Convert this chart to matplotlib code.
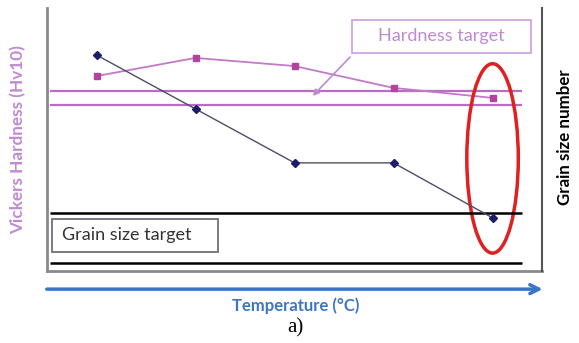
import matplotlib
matplotlib.use("Agg")
import matplotlib.pyplot as plt
from matplotlib.patches import Ellipse, Rectangle, FancyArrowPatch

# temperature steps (no tick labels in the original)
temps = [1, 2, 3, 4, 5]
# hardness (arbitrary units, left axis)
hardness = [74.1, 81.0, 77.9, 69.6, 65.8]
hardness_target = [68.6, 63.1]
# grain size number (arbitrary units, right axis)
grain_size = [8.21, 6.16, 4.11, 4.11, 2.02]
grain_target = [2.21, 0.30]

purple = "#b86cc4"
purple_light = "#c08ad2"
navy = "#1c1c6a"
blue = "#3b76c6"

plt.rcParams['font.family'] = ['Lato', 'DejaVu Sans']

fig = plt.figure(figsize=(5.79, 3.43), dpi=100)
ax = fig.add_axes([0.0812, 0.2099, 0.855, 0.767])
ax2 = ax.twinx()

ax.set_xlim(0.5, 5.5)
ax.set_ylim(0, 100)
ax2.set_ylim(0, 10)

for a in (ax, ax2):
    a.set_xticks([])
    a.set_yticks([])
    a.spines['top'].set_visible(False)
ax.spines['left'].set_color("#8a8a8a")
ax.spines['left'].set_linewidth(2)
ax.spines['bottom'].set_color("#8a8a8a")
ax.spines['bottom'].set_linewidth(2)
ax.spines['right'].set_visible(False)
ax2.spines['left'].set_visible(False)
ax2.spines['bottom'].set_visible(False)
ax2.spines['right'].set_color("#555555")
ax2.spines['right'].set_linewidth(1.5)

# target bands
for v in hardness_target:
    ax.hlines(v, 0.53, 5.3, color=purple, lw=1.6)
for v in grain_target:
    ax2.hlines(v, 0.53, 5.3, color="black", lw=1.8)

# data series
ax.plot(temps, hardness, color="#c27ac8", lw=1.3, marker="s", ms=5,
        mfc="#b0459f", mec="#b0459f", zorder=3)
ax2.plot(temps, grain_size, color="#4d4d6a", lw=1.0, marker="D", ms=4,
         mfc=navy, mec=navy, zorder=3)

# red ellipse around the last temperature
ax.add_patch(Ellipse((5, 42.8), 0.52, 72, fill=False, ec="#e01f1f", lw=2.5, zorder=4))

# hardness target callout
ax.add_patch(Rectangle((0.616, 0.829), 0.362, 0.1255, transform=ax.transAxes,
                       fill=False, ec="#cfa6dd", lw=1.3))
ax.text(0.796, 0.892, "Hardness target", transform=ax.transAxes, ha="center",
        va="center", color=purple_light, fontsize=13)
ax.annotate("", xy=(0.533, 0.658), xytext=(0.616, 0.821), xycoords=ax.transAxes,
            textcoords=ax.transAxes,
            arrowprops=dict(arrowstyle="-|>", color=purple_light, lw=1.2,
                            mutation_scale=9))

# grain size target box
ax.add_patch(Rectangle((0.0101, 0.0722), 0.335, 0.1255, transform=ax.transAxes,
                       fill=False, ec="#70707e", lw=1.3))
ax.text(0.0303, 0.135, "Grain size target", transform=ax.transAxes, ha="left",
        va="center", color="#333333", fontsize=13)

# axis labels
fig.text(0.031, 0.592, "Vickers Hardness (Hv10)", rotation=90, ha="center",
         va="center", color=purple_light, fontsize=12.3, fontweight="bold")
fig.text(0.976, 0.60, "Grain size number", rotation=90, ha="center",
         va="center", color="black", fontsize=12.2, fontweight="bold")

# temperature arrow
fig.add_artist(FancyArrowPatch((0.076, 0.157), (0.942, 0.157),
                               transform=fig.transFigure, arrowstyle="->",
                               mutation_scale=16, color=blue, lw=2.5))
fig.text(0.511, 0.108, "Temperature (°C)", ha="center", va="center",
         color=blue, fontsize=12, fontweight="bold")
fig.text(0.511, 0.044, "a)", ha="center", va="center", color="black",
         fontsize=15, family="Liberation Serif")

fig.savefig("out.png", dpi=100)
